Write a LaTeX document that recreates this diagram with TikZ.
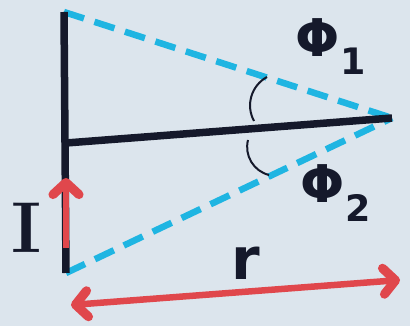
\documentclass[tikz,border=0pt]{standalone}
\usepackage{fontspec}
\newfontfamily\symfont{DejaVu Sans}
\usetikzlibrary{arrows.meta}
\definecolor{bgcol}{HTML}{DCE5ED}
\definecolor{wirecol}{HTML}{15192B}
\definecolor{sightcol}{HTML}{1FB5E2}
\definecolor{flowcol}{HTML}{E0474C}
\begin{document}
\begin{tikzpicture}[x=1pt,y=1pt,
    wire/.style={draw=wirecol,line width=7.5pt},
    sight/.style={draw=sightcol,line width=6.5pt,dash pattern=on 21pt off 11pt},
    flow/.style={draw=flowcol,line width=6.5pt},
    tip/.tip={Straight Barb[length=12pt,width=26pt,round,line width=0pt 1.4]},
    arcmark/.style={draw=wirecol,line width=2pt},
    lbl/.style={text=wirecol,inner sep=0pt}]
    % Background
    \fill[bgcol] (0,0) rectangle (410,326);
    \useasboundingbox (0,0) rectangle (410,326);
    % Points of the wire and field point
    \coordinate (top) at (64,314);
    \coordinate (bot) at (66,53);
    \coordinate (foot) at (66,183);
    \coordinate (P) at (392,208);
    % Sight lines
    \draw[sight] (top) -- (P);
    \draw[sight] (bot) -- (P);
    % Wire and distance line
    \draw[wire] (top) -- (bot);
    \draw[wire] (foot) -- (P);
    % Current
    \coordinate (Ia) at (66,78);
    \coordinate (Ib) at (66,148);
    \draw[flow,-tip] (Ia) -- (Ib);
    % Angle marks
    \coordinate (a1) at (267,249);
    \coordinate (a2) at (254,205);
    \coordinate (b1) at (248,186);
    \coordinate (b2) at (269,151);
    \draw[arcmark] (a1) to[bend right=45] (a2);
    \draw[arcmark] (b1) to[bend right=45] (b2);
    % Distance r
    \coordinate (rl) at (71,21);
    \coordinate (rr) at (400,46);
    \draw[flow,tip-tip] (rl) -- (rr);
    % Labels
    \node[lbl] (phione) at (331,279) {\fontsize{52}{52}\selectfont\symfont\bfseries Φ\textsubscript{1}};
    \node[lbl] (phitwo) at (336,133) {\fontsize{52}{52}\selectfont\symfont\bfseries Φ\textsubscript{2}};
    \node[lbl] (cur) at (27,98) {\fontsize{72}{72}\selectfont\bfseries I};
    \node[lbl] (dist) at (246,63) {\fontsize{58}{58}\selectfont\symfont\bfseries r};
\end{tikzpicture}
\end{document}
